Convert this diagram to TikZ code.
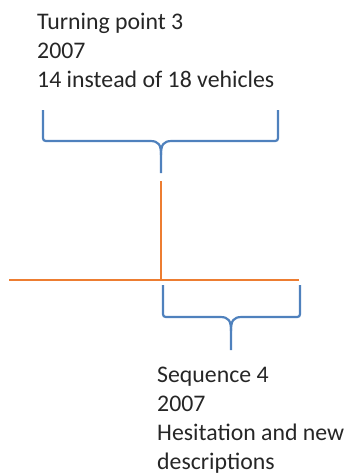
\documentclass[tikz,border=0pt]{standalone}
\usepackage{fontspec}
\setmainfont{Carlito}
\definecolor{bracebl}{HTML}{4F81BD}
\definecolor{lineor}{HTML}{ED7D31}

\begin{document}
\begin{tikzpicture}[x=1pt,y=-1pt]
   \tikzset{
     label/.style={anchor=base west,align=left,inner sep=0pt,
       font=\fontsize{23.8}{29}\selectfont,text=black!85},
     bracket/.style={draw=bracebl,line width=2.2pt},
     timeline/.style={draw=lineor,line width=2.4pt}}
   \useasboundingbox (0,0) rectangle (348,475);
   \node[label] (turn) at (37,87) {Turning point 3\\2007\\14 instead of 18 vehicles};
   \node[label] (seq) at (157,469) {Sequence 4\\2007\\Hesitation and new\\descriptions};
   \coordinate (tipa) at (161,173);
   \coordinate (tipb) at (231,350);
   \coordinate (top) at (161,181);
   \coordinate (cross) at (161,280);
   \coordinate (left) at (9,280);
   \coordinate (right) at (299,280);
   % upper brace
   \path[bracket] (43,110) -- (43,135) .. controls (43,141) .. (49,141)
      -- (150,141) .. controls (159,141) and (161,145) .. (161,155) -- (tipa);
   \path[bracket] (278,110) -- (278,135) .. controls (278,141) .. (272,141)
      -- (172,141) .. controls (163,141) and (161,145) .. (161,155);
   % lower brace
   \path[bracket] (163,285) -- (163,311) .. controls (163,317) .. (169,317)
      -- (220,317) .. controls (229,317) and (231,321) .. (231,331) -- (tipb);
   \path[bracket] (300,285) -- (300,311) .. controls (300,317) .. (294,317)
      -- (242,317) .. controls (233,317) and (231,321) .. (231,331);
   % time line
   \path[timeline] (top) -- (cross);
   \path[timeline] (left) -- (right);
\end{tikzpicture}
\end{document}
